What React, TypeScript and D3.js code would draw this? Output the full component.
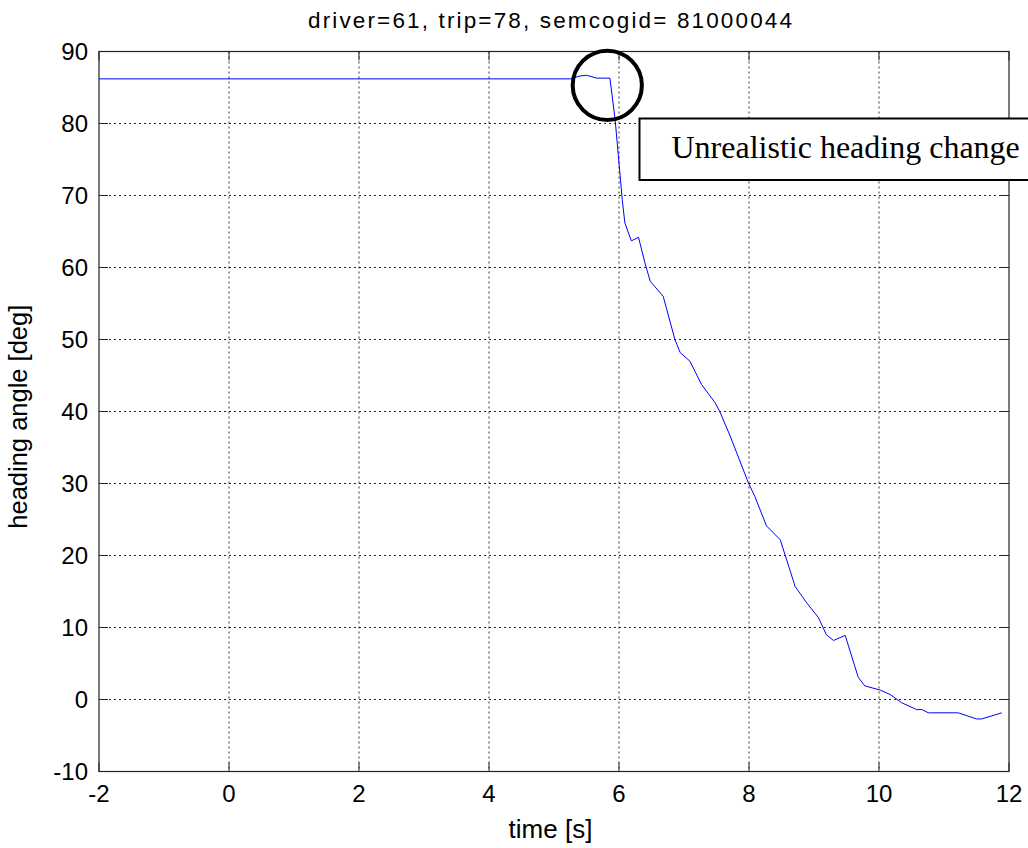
import React from "react";
import * as d3 from "d3";

const times = [-2, 5.25, 5.4, 5.5, 5.66, 5.86, 5.94, 6.05, 6.09, 6.19, 6.3, 6.4, 6.48, 6.68, 6.86, 6.94, 7.09, 7.27, 7.48, 7.55, 7.71, 7.99, 8.09, 8.27, 8.48, 8.71, 8.89, 9.07, 9.19, 9.3, 9.48, 9.68, 9.78, 10.02, 10.17, 10.35, 10.58, 10.66, 10.76, 11.22, 11.5, 11.58, 11.89];
const heading = [86.2, 86.2, 86.6, 86.7, 86.3, 86.3, 80.6, 69.4, 66.2, 63.7, 64.2, 60.6, 58.1, 56.0, 50.0, 48.2, 47.0, 43.75, 41.2, 40.0, 36.6, 30.1, 28.2, 24.1, 22.2, 15.7, 13.4, 11.35, 9.0, 8.2, 8.9, 3.1, 1.9, 1.3, 0.7, -0.46, -1.4, -1.4, -1.85, -1.85, -2.7, -2.7, -1.85];
const xTicks = [-2, 0, 2, 4, 6, 8, 10, 12];
const yTicks = [-10, 0, 10, 20, 30, 40, 50, 60, 70, 80, 90];
const titleText = "driver=61, trip=78, semcogid= 81000044";
const xLabel = "time [s]";
const yLabel = "heading angle [deg]";
const annotationText = "Unrealistic heading change";
const circleCenter = { t: 5.82, v: 85.3 };

export default function App() {
  const W = 1028, H = 848;
  const left = 99, right = 1009, top = 51.5, bottom = 771.5;
  const x = d3.scaleLinear().domain([-2, 12]).range([left, right]);
  const y = d3.scaleLinear().domain([-10, 90]).range([bottom, top]);
  const pts = times.map((t, i) => [t, heading[i]] as [number, number]);
  const line = d3.line<[number, number]>().x(d => x(d[0])).y(d => y(d[1]));
  const tickLen = 9;
  const sans = "Arial, 'Liberation Sans', sans-serif";
  const serif = "'Times New Roman', 'Liberation Serif', serif";

  return (
    <svg width={W} height={H} style={{ position: "absolute", left: 0, top: 0, background: "#fff" }}>
      <rect x={0} y={0} width={W} height={H} fill="#fff" />
      {xTicks.slice(1, -1).map(t => (
        <line key={"gx" + t} x1={x(t)} x2={x(t)} y1={top} y2={bottom} stroke="#333" strokeWidth={1} strokeDasharray="2,3" />
      ))}
      {yTicks.slice(1, -1).map(v => (
        <line key={"gy" + v} x1={left} x2={right} y1={y(v)} y2={y(v)} stroke="#222" strokeWidth={1} strokeDasharray="2,3" />
      ))}
      {xTicks.map(t => (
        <g key={"tx" + t}>
          <line x1={x(t)} x2={x(t)} y1={bottom} y2={bottom - tickLen} stroke="#222" />
          <line x1={x(t)} x2={x(t)} y1={top} y2={top + tickLen} stroke="#222" />
        </g>
      ))}
      {yTicks.map(v => (
        <g key={"ty" + v}>
          <line x1={left} x2={left + tickLen} y1={y(v)} y2={y(v)} stroke="#222" />
          <line x1={right} x2={right - tickLen} y1={y(v)} y2={y(v)} stroke="#222" />
        </g>
      ))}
      <path d={line(pts) || ""} fill="none" stroke="#0000ff" strokeWidth={1} />
      <rect x={left} y={top} width={right - left} height={bottom - top} fill="none" stroke="#222" strokeWidth={1.2} />
      {xTicks.map(t => (
        <text key={"lx" + t} x={x(t)} y={802} textAnchor="middle" fontFamily={sans} fontSize={24} fill="#000">{t}</text>
      ))}
      {yTicks.map(v => (
        <text key={"ly" + v} x={88} y={y(v) + 8.5} textAnchor="end" fontFamily={sans} fontSize={24} fill="#000">{v}</text>
      ))}
      <text x={550} y={28} textAnchor="middle" fontFamily={sans} fontSize={22.5} textLength={484} lengthAdjust="spacing" fill="#000">{titleText}</text>
      <text x={550.5} y={838} textAnchor="middle" fontFamily={sans} fontSize={26} fill="#000">{xLabel}</text>
      <text transform={`translate(27,416.7) rotate(-90)`} textAnchor="middle" fontFamily={sans} fontSize={25.5} fill="#000">{yLabel}</text>
      <circle cx={x(circleCenter.t)} cy={y(circleCenter.v)} r={34.6} fill="none" stroke="#000" strokeWidth={4} />
      <rect x={639.5} y={118.5} width={420} height={61.5} fill="#fff" stroke="#000" strokeWidth={2} />
      <text x={671.5} y={158.3} fontFamily={serif} fontSize={32} fill="#000">{annotationText}</text>
    </svg>
  );
}
